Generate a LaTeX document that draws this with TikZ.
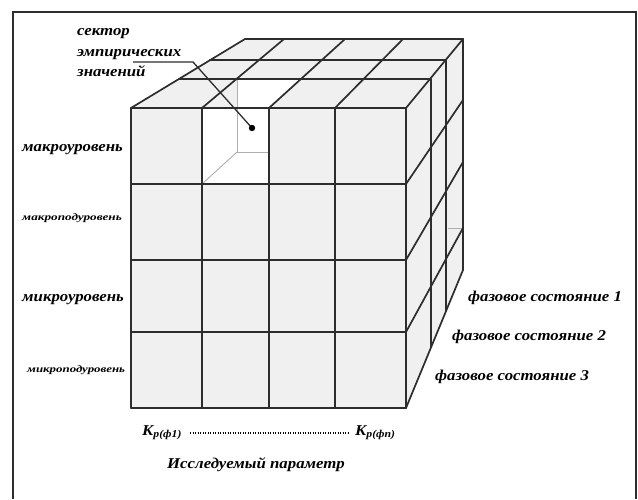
\documentclass[tikz,border=0pt]{standalone}
\usepackage{fontspec}
\setmainfont[FakeStretch=1.12]{Liberation Serif}
\usetikzlibrary{calc}
\definecolor{edgecol}{RGB}{45,45,45}
\definecolor{facecol}{RGB}{240,240,240}
\definecolor{holecol}{RGB}{175,175,175}
\tikzset{
  % cube grid line
  gridline/.style={draw=edgecol, line width=1.7pt, line cap=round, line join=round},
  % cube face fill
  face/.style={fill=facecol, draw=none},
  % inner edges of the empty sector
  holeline/.style={draw=holecol, line width=0.9pt},
  % level label on the left
  lvl/.style={font=\fontsize{15}{20.5}\selectfont\bfseries\itshape, inner sep=0pt, anchor=west, align=left},
  % sub-level label (small)
  sublvl/.style={font=\fontsize{10}{11}\selectfont\bfseries\itshape, inner sep=0pt, anchor=west},
  % phase state label
  phase/.style={font=\fontsize{15}{17}\selectfont\bfseries\itshape, inner sep=0pt, anchor=west},
  % dotted axis between the K labels
  dotline/.style={draw=black, line width=1.3pt, dash pattern=on 1.2pt off 1.3pt, shorten <=8pt, shorten >=6pt},
}

\begin{document}
\begin{tikzpicture}[x=1pt,y=-1pt]
  \useasboundingbox (0,0) rectangle (638,499);
  \draw[edgecol, line width=1.1pt] (13,499) -- (13,12) -- (636,12) -- (636,499);

  % faces
  \fill[face] (131,108) rectangle (406,408);
  \fill[face] (131,108) -- (245,39) -- (463,39) -- (406,108) -- cycle;
  \fill[face] (406,108) -- (463,39) -- (463,270) -- (406,408) -- cycle;
  % empty sector
  \fill[white] (202,108) rectangle (269,184);
  \fill[white] (237,108) -- (237,79) -- (301,79) -- (269,108) -- cycle;
  \draw[holeline] (237,79) -- (237,152) -- (269,152);
  \draw[holeline] (237,152) -- (202,184);
  \draw[holeline] (448,228) -- (463,228);

  % front face grid
  \foreach \x in {131,202,269,335,406}
    \draw[gridline] (\x,108) -- (\x,408);
  \foreach \y in {108,184,260,332,408}
    \draw[gridline] (131,\y) -- (406,\y);

  % top face grid
  \foreach \f/\b in {131/245,202/284,269/345,335/403,406/463}
    \draw[gridline] (\f,108) -- (\b,39);
  \draw[gridline] (179,79) -- (431,79);
  \draw[gridline] (210,60) -- (446,60);
  \draw[gridline] (245,39) -- (463,39);

  % right face grid
  \foreach \f/\b in {184/100,260/162,332/228,408/270}
    \draw[gridline] (406,\f) -- (463,\b);
  \draw[gridline] (431,79) -- (431,347);
  \draw[gridline] (446,60) -- (446,311);
  \draw[gridline] (463,39) -- (463,270);

  % pointer to the sector
  \node[lvl] (sector) at (77,53) {сектор\\эмпирических\\значений};
  \coordinate (ptrA) at (133,62);
  \coordinate (ptrB) at (193,62);
  \coordinate (ptrC) at (252,128);
  \draw[edgecol, line width=1.3pt] (ptrA) -- (ptrB) -- (ptrC);
  \fill (ptrC) circle (3.2pt);

  % levels
  \node[lvl] (macro)    at (22,150) {макроуровень};
  \node[sublvl] (macrosub) at (22,218) {\scalebox{1.18}[1]{макроподуровень}};
  \node[lvl] (micro)    at (22,300) {микроуровень};
  \node[sublvl] (microsub) at (27,370) {\scalebox{1.15}[1]{микроподуровень}};

  % phase states
  \node[phase] (ph1) at (468,298) {фазовое состояние 1};
  \node[phase] (ph2) at (452,337) {фазовое состояние 2};
  \node[phase] (ph3) at (435,377) {фазовое состояние 3};

  % parameter axis
  \node[phase] (k1) at (142,433) {K\textsubscript{р(ф1)}};
  \node[phase] (kn) at (355,433) {K\textsubscript{р(фn)}};
  \draw[dotline] (k1) -- (kn);
  \node[phase, anchor=center] (param) at (256,465) {Исследуемый параметр};
\end{tikzpicture}
\end{document}
